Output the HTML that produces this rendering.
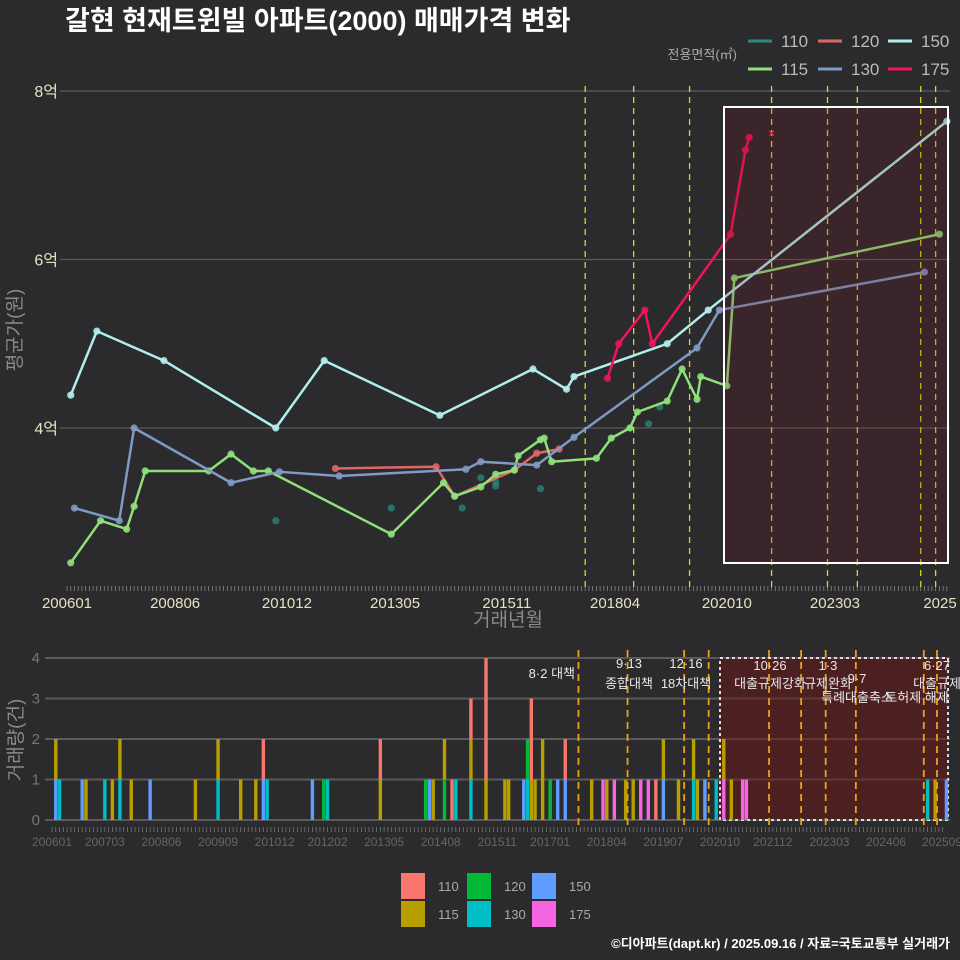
<!DOCTYPE html>
<html><head><meta charset="utf-8">
<style>
html,body{margin:0;padding:0;background:#2b2a2c;}
svg{display:block;font-family:"Liberation Sans","Noto Sans CJK KR",sans-serif;}
</style></head>
<body>
<svg id="chart" width="960" height="960" viewBox="0 0 960 960">
<rect x="0" y="0" width="960" height="960" fill="#2b2a2c"/>
<text x="65" y="30" font-size="27" font-weight="bold" fill="#ffffff">갈현 현재트윈빌 아파트(2000) 매매가격 변화</text>
<g id="topPanel"></g>
<g id="botPanel"></g>
<text x="21" y="330" font-size="19" fill="#8a8a8a" text-anchor="middle" transform="rotate(-90 21 330)">평균가(원)</text>
<text x="508" y="626" font-size="19" fill="#8a8a8a" text-anchor="middle">거래년월</text>
<text x="22" y="740" font-size="19" fill="#8a8a8a" text-anchor="middle" transform="rotate(-90 22 740)">거래량(건)</text>
<g>
<text x="737" y="59" font-size="13" fill="#aaaaaa" text-anchor="end">전용면적(㎡)</text>
</g>
<g id="blegend"></g>
<text x="950" y="948" font-size="13" font-weight="bold" fill="#ffffff" text-anchor="end">©디아파트(dapt.kr) / 2025.09.16 / 자료=국토교통부 실거래가</text>
</svg>
<script>
// ---- data ----
const sizes = ["110","115","120","130","150","175"];
const lineColors = {"110":"#2a8a80","115":"#90e07a","120":"#e06666","130":"#7f9ac4","150":"#b0eeee","175":"#f0145a"};
const barColors = {"110":"#f8766d","115":"#b79f00","120":"#00ba38","130":"#00bfc4","150":"#619cff","175":"#f564e3"};
const m150 = ["200602","200609","200803","201009","201110","201405","201606","201703","201705","201906","202005","202509"];
const v150 = [4.39,5.15,4.80,4.00,4.80,4.15,4.70,4.46,4.61,5.00,5.40,7.64];
const m130 = ["200603","200703","200707","200909","201010","201202","201412","201504","201607","201705","202002","202008","202503"];
const v130 = [3.05,2.90,4.00,3.35,3.48,3.43,3.51,3.60,3.56,3.89,4.95,5.40,5.85];
const m115 = ["200602","200610","200705","200707","200710","200903","200909","201003","201007","201304","201406","201409","201504","201508","201601","201602","201608","201609","201611","201711","201803","201808","201810","201906","201910","202002","202003","202010","202012","202507"];
const v115 = [2.40,2.90,2.80,3.07,3.49,3.49,3.69,3.49,3.49,2.74,3.35,3.19,3.30,3.45,3.50,3.67,3.86,3.88,3.60,3.64,3.88,4.00,4.19,4.32,4.70,4.34,4.61,4.50,5.78,6.30];
const m120 = ["201201","201404","201409","201601","201607","201701"];
const v120 = [3.52,3.54,3.19,3.50,3.70,3.75];
const m175 = ["201802","201805","201812","201902","202011","202103","202104"];
const v175 = [4.59,5.00,5.40,5.00,6.30,7.30,7.45];
const m110 = ["201009","201304","201411","201504","201508","201508","201608","201901","201904"];
const v110 = [2.90,3.05,3.05,3.41,3.36,3.31,3.28,4.05,4.25];
const priceTicks = [4,6,8];
const topXLabels = ["200601","200806","201012","201305","201511","201804","202010","202303","2025"];
const topXLabelMonths = ["200601","200806","201012","201305","201511","201804","202010","202303","202509"];
const policyTop = ["201708","201809","201912","202110","202301","202309","202502","202506"];
const barMonths = ["200602","200602","200603","200609","200610","200703","200705","200707","200707","200710","200803","200903","200909","200909","201003","201007","201009","201009","201010","201110","201201","201202","201304","201304","201404","201405","201406","201409","201409","201411","201412","201504","201504","201504","201508","201508","201601","201602","201606","201607","201607","201608","201608","201609","201611","201701","201703","201705","201705","201712","201803","201804","201806","201809","201811","201901","201903","201905","201907","201907","201911","202003","202003","202004","202006","202009","202011","202011","202101","202104","202105","202505","202507","202510"];
const barSizes = ["150","115","130","150","115","130","115","130","115","115","150","115","130","115","115","115","150","110","130","150","120","130","115","110","120","150","115","120","115","110","130","130","115","110","115","110","115","115","150","130","120","115","110","115","115","120","150","150","110","115","175","115","175","115","115","175","175","110","150","115","115","130","115","115","150","130","175","115","115","175","175","130","115","150"];
const barCounts = [1,1,1,1,1,1,1,1,1,1,1,1,1,1,1,1,1,1,1,1,1,1,1,1,1,1,1,1,1,1,1,1,1,1,1,3,1,1,1,1,1,1,2,1,2,1,1,1,1,1,1,1,1,1,1,1,1,1,1,1,1,1,1,1,1,1,1,1,1,1,1,1,1,1];
const volTicks = [0,1,2,3,4];
const botXLabels = ["200601","200703","200806","200909","201012","201202","201305","201408","201511","201701","201804","201907","202010","202112","202303","202406","202509"];
const policyBot = [139.5,152.5,167.5,174,190,198.5,205,213,231,234.5];

// ---- scales ----
const NS="http://www.w3.org/2000/svg";
function mi(s){return (parseInt(s.slice(0,4))-2006)*12+parseInt(s.slice(4,6))-1;}
function xT(m){return 67+m*3.728;}
function yT(v){return 428-(v-4)*84.25;}
function xB(m){return 52+m*3.774;}
function yB(c){return 820-c*40.5;}
function mk(tag,attrs,parent){const e=document.createElementNS(NS,tag);for(const k in attrs)e.setAttribute(k,attrs[k]);parent.appendChild(e);return e;}
const topG=document.getElementById('topPanel'), botG=document.getElementById('botPanel'), svgEl=document.getElementById('chart');

priceTicks.forEach(t=>{
  const g=mk('line',{x1:60,x2:950,y1:yT(t),y2:yT(t),stroke:'#5a5a5a','stroke-width':1.2},topG);
  
  
  const l=mk('text',{x:58,y:yT(t)+6,'font-size':16,fill:'#e8e2c4','text-anchor':'end'},topG);
  l.textContent=t+'억';
  
  
});
for(let m=0;m<=236;m++){
  const t=mk('line',{x1:xT(m),x2:xT(m),y1:586,y2:591,stroke:'#888','stroke-width':0.8},topG);
  
  
}
topXLabels.forEach((lab,i)=>{
  const t=mk('text',{x:Math.min(xT(mi(topXLabelMonths[i])),940),y:608,'font-size':15,fill:'#e8e2c4','text-anchor':'middle'},topG);
  t.textContent=lab;
  
  
});
policyTop.forEach(p=>{
  const l=mk('line',{x1:xT(mi(p)),x2:xT(mi(p)),y1:86,y2:590,stroke:'#d8d820','stroke-width':1.3,'stroke-dasharray':'6,5'},topG);
  
  
});
function series(ms,vs,key,lines){
  const pts=ms.map((m,i)=>[xT(mi(m)),yT(vs[i])]);
  if(lines){
    const p=mk('polyline',{points:pts.map(p=>p.join(',')).join(' '),fill:'none',stroke:lineColors[key],'stroke-width':2.5,'stroke-linejoin':'round'},topG);
    
    
  }
  pts.forEach(pt=>{
    const c=mk('circle',{cx:pt[0],cy:pt[1],r:3.6,fill:lineColors[key],'fill-opacity':lines?0.9:0.75},topG);
    
    
  });
}
series(m110,v110,"110",false);
series(m120,v120,"120",true);
series(m115,v115,"115",true);
series(m130,v130,"130",true);
series(m150,v150,"150",true);
series(m175,v175,"175",true);
const xm=mk('text',{x:xT(mi("202110")),y:yT(7.5)+4,'font-size':11,fill:'#ff3322','text-anchor':'middle','font-weight':'bold'},topG);
xm.textContent='×';


const r=mk('rect',{x:724,y:107,width:224,height:456,fill:'rgba(120,25,35,0.2)',stroke:'#ffffff','stroke-width':2},topG);



volTicks.forEach(t=>{
  const g=mk('line',{x1:45,x2:950,y1:yB(t),y2:yB(t),stroke:'#5a5a5a','stroke-width':2},botG);
  
  
  const l=mk('text',{x:40,y:yB(t)+5,'font-size':15,fill:'#777','text-anchor':'end'},botG);
  l.textContent=t;
  
  
});
const br=mk('rect',{x:720,y:658,width:228,height:162,fill:'rgba(110,20,20,0.5)',stroke:'#dddddd','stroke-width':2,'stroke-dasharray':'3,3'},botG);


for(let m=0;m<=236;m++){
  const t=mk('line',{x1:xB(m),x2:xB(m),y1:827,y2:832,stroke:'#777','stroke-width':0.8},botG);
  
  
}
botXLabels.forEach(lab=>{
  const t=mk('text',{x:Math.min(xB(mi(lab)),942),y:846,'font-size':12,fill:'#666','text-anchor':'middle'},botG);
  t.textContent=lab;
  
  
});
const order=["175","150","130","120","115","110"];
const stack={};
order.forEach(s=>{barMonths.forEach((m,i)=>{
  if(barSizes[i]!==s)return;
  const k=mi(m);const base=stack[k]||0;
  const b=mk('rect',{x:xB(k)-1.7,y:yB(base+barCounts[i]),width:3.4,height:barCounts[i]*40.5,fill:barColors[s]},botG);
  
  
  stack[k]=base+barCounts[i];
});});
policyBot.forEach(m=>{
  const l=mk('line',{x1:xB(m),x2:xB(m),y1:650,y2:830,stroke:'#e8a317','stroke-width':1.8,'stroke-dasharray':'7,5'},botG);
  
  
});
const ann=[["8·2 대책",575,678,"end"],["9·13",629,668,"middle"],["종합대책",629,688,"middle"],["12·16",686,668,"middle"],["18차대책",686,688,"middle"],["10·26",770,670,"middle"],["대출규제강화",770,688,"middle"],["1·3",828,670,"middle"],["규제완화",828,688,"middle"],["9·7",857,683,"middle"],["특례대출축소",857,702,"middle"],["토허제 해제",917,702,"middle"],["6·27",937,670,"middle"],["대출규제",937,688,"middle"]];
ann.forEach(a=>{
  const t=mk('text',{x:a[1],y:a[2],'font-size':13,fill:'#e8e8e8','text-anchor':a[3]},botG);
  t.textContent=a[0];
  
  
});

const leg=[["110",748,41],["120",818,41],["150",888,41],["115",748,69],["130",818,69],["175",888,69]];
leg.forEach(l=>{
  const s=mk('line',{x1:l[1],x2:l[1]+24,y1:l[2],y2:l[2],stroke:lineColors[l[0]],'stroke-width':3},svgEl);
  
  
  const t=mk('text',{x:l[1]+33,y:l[2]+6,'font-size':17,fill:'#bbbbbb'},svgEl);
  t.textContent=l[0];
  
  
});
const bl=[["110",401,873],["120",467,873],["150",532,873],["115",401,901],["130",467,901],["175",532,901]];
const blg=document.getElementById('blegend');
bl.forEach(l=>{
  const s=mk('rect',{x:l[1],y:l[2],width:24,height:26,fill:barColors[l[0]]},blg);
  
  
  const t=mk('text',{x:l[1]+37,y:l[2]+18,'font-size':13,fill:'#aaaaaa'},blg);
  t.textContent=l[0];
  
  
});
</script>
</body></html>
